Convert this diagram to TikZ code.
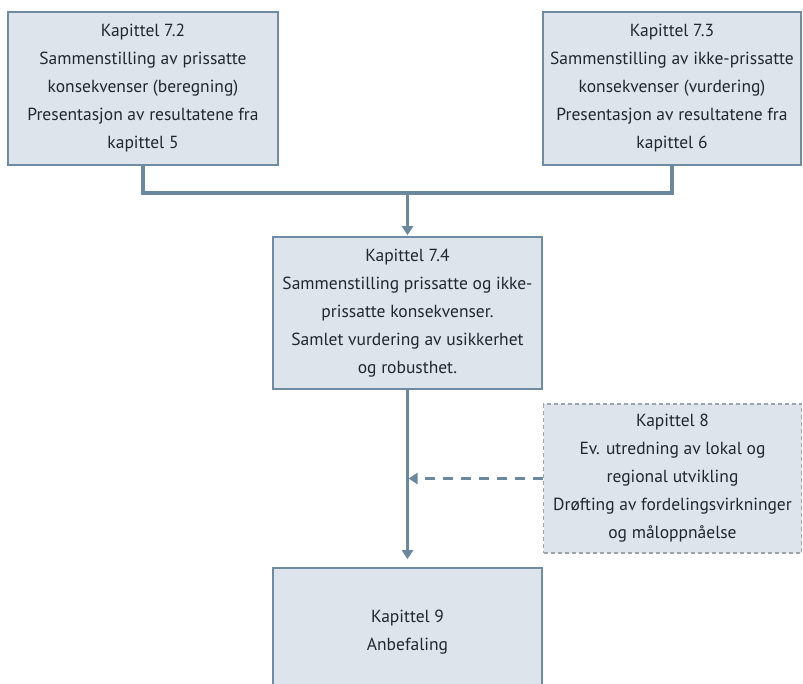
\documentclass[tikz,border=0pt]{standalone}
\usepackage{fontspec}
\setmainfont{PT Sans}
\usetikzlibrary{arrows.meta}
\usetikzlibrary{positioning}

\definecolor{boxfill}{HTML}{DDE4EC}
\definecolor{boxline}{HTML}{6F8CA3}
\definecolor{connline}{HTML}{6A89A1}
\definecolor{dashline}{HTML}{9AA5AE}
\definecolor{textcol}{HTML}{22272C}

\tikzset{
  box/.style={draw=boxline, fill=boxfill, line width=1.6pt, align=center,
    text=textcol, font=\fontsize{17.5}{28}\selectfont, inner sep=0pt},
  optbox/.style={box, draw=dashline, line width=1.3pt, dash pattern=on 4pt off 3pt},
  conn/.style={draw=connline, line width=3.6pt},
  tip/.style={-{Triangle[length=9pt, width=11pt]}},
}

\begin{document}
\begin{tikzpicture}[x=1pt, y=-1pt]

  % page frame, the bottom box runs off it
  \clip (0,0) rectangle (803,684);

  % boxes
  \node[box, minimum width=270pt, minimum height=153pt] (k72) at (143,88.5)
    {Kapittel 7.2\\Sammenstilling av prissatte\\konsekvenser (beregning)\\Presentasjon av resultatene fra\\kapittel 5};
  \node[box, minimum width=258pt, minimum height=153pt] (k73) at (672,88.5)
    {Kapittel 7.3\\Sammenstilling av ikke-prissatte\\konsekvenser (vurdering)\\Presentasjon av resultatene fra\\kapittel 6};
  \node[box, minimum width=269pt, minimum height=152pt] (k74) at (407.5,313)
    {Kapittel 7.4\\Sammenstilling prissatte og ikke-\\prissatte konsekvenser.\\Samlet vurdering av usikkerhet\\og robusthet.};
  \node[optbox, minimum width=258pt, minimum height=149pt] (k8) at (672.5,478.5)
    {Kapittel 8\\Ev. utredning av lokal og\\regional utvikling\\Drøfting av fordelingsvirkninger\\og måloppnåelse};
  \node[box, minimum width=269pt, minimum height=128pt] (k9) at (407.5,632)
    {Kapittel 9\\Anbefaling};

  % joining bar
  \coordinate (bar) at (0,193);
  \coordinate (hit) at (k74.south |- k8.west);

  % connectors
  \draw[conn] (k72.south) -- (k72.south |- bar) -- (k73.south |- bar) -- (k73.south);
  \draw[conn, tip, shorten >=1pt] (k74.north |- bar) -- (k74.north);
  \draw[conn, tip, shorten >=8pt] (k74.south) -- (k9.north);
  \draw[conn, tip, dash pattern=on 10pt off 8pt, shorten >=1pt] (k8.west) -- (hit);

\end{tikzpicture}
\end{document}
